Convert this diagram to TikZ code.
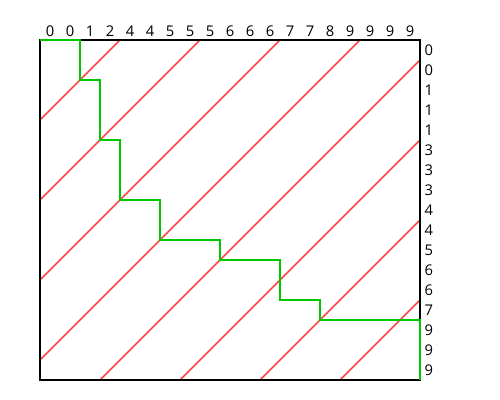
\documentclass[tikz,border=0pt]{standalone}
\usepackage{fontspec}
\setmainfont{Open Sans}
\definecolor{warpgreen}{RGB}{0, 200, 0}
\definecolor{bandred}{RGB}{255, 70, 70}

\begin{document}
\begin{tikzpicture}[
    x=0.5cm, y=0.5cm,
    font=\fontsize{10.5}{12}\selectfont,
    digit/.style={inner sep=0pt},
    band/.style={bandred, line width=1.2pt},
    warp/.style={warpgreen, line width=1.4pt},
    frame/.style={black, line width=1.4pt}
]
    \useasboundingbox (-2,-1) rectangle (23,19);

    % --- Diagonal bands (Red) ---
    \begin{scope}
        \clip (0,0) rectangle (19,17);
        \foreach \c in {13,9,...,-15}
            \draw[band] (-1,-1+\c) -- (20,20+\c);
    \end{scope}

    % --- Frame ---
    \draw[frame] (0,0) rectangle (19,17);

    % --- Warping path (Green) ---
    \draw[warp] (0,17) -| (2,15) -| (3,12) -| (4,9) -| (6,7) -| (9,6)
                -| (12,4) -| (14,3) -| (19,0);

    % --- Sequence values ---
    % Top sequence
    \foreach \v [count=\i] in {0,0,1,2,4,4,5,5,5,6,6,6,7,7,8,9,9,9,9}
        \node[digit, anchor=base] (top\i) at (\i-0.5, 17.15) {\v};

    % Right sequence
    \foreach \v [count=\i] in {0,0,1,1,1,3,3,3,4,4,5,6,6,7,9,9,9}
        \node[digit, anchor=base west] (side\i) at (19.22, 17.2-\i) {\v};

\end{tikzpicture}
\end{document}
